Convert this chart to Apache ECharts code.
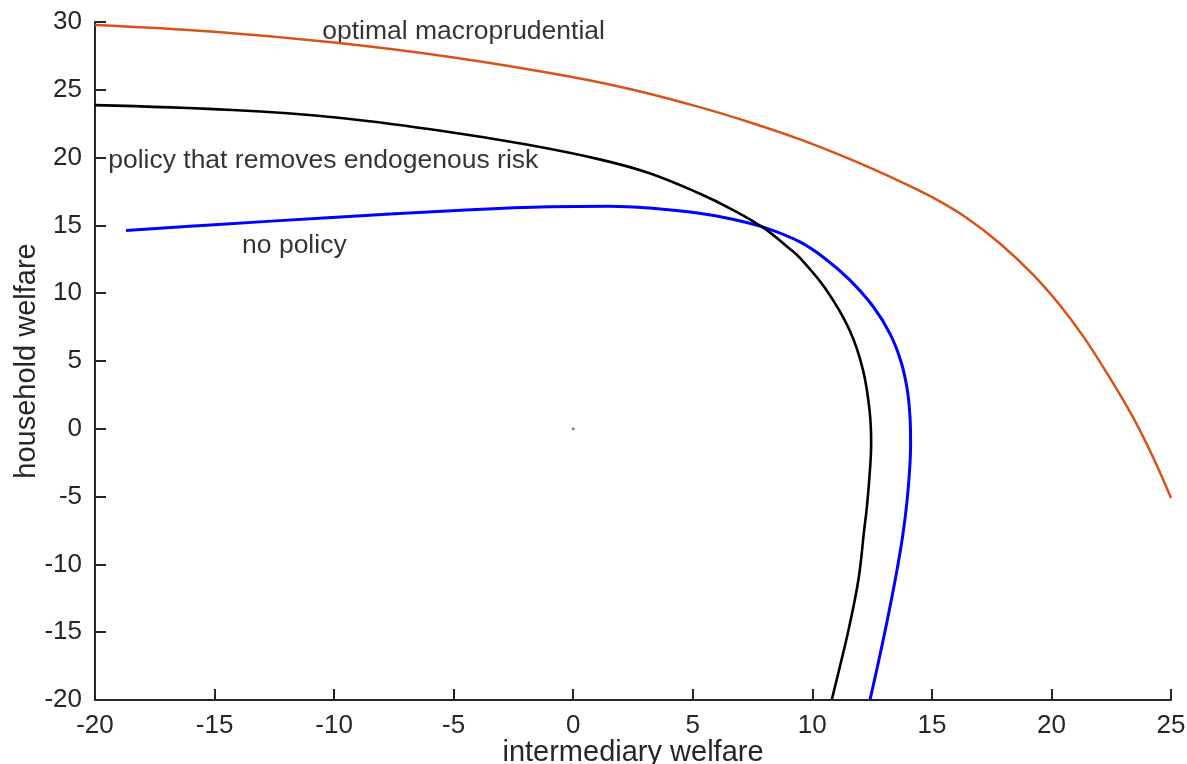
<!DOCTYPE html>
<html>
<head>
<meta charset="utf-8">
<script src="https://cdn.jsdelivr.net/npm/echarts@6/dist/echarts.min.js"></script>
<style>
  html, body { margin: 0; padding: 0; background: #fff; }
  #chart { width: 1187px; height: 764px; }
</style>
</head>
<body>
<div id="chart"></div>
<script>
// values: [intermediary welfare, household welfare]
const optimalMacro = [
  [-20, 29.78], [-15, 29.28], [-10, 28.48], [-5, 27.38], [0, 25.93], [2.5, 25.0],
  [5.28, 23.72], [7.37, 22.61], [9.46, 21.36], [11.55, 19.9], [13.64, 18.27],
  [15.03, 17.06], [16.43, 15.58], [17.82, 13.7], [19.21, 11.41], [20.33, 9.17],
  [21.3, 6.89], [22.28, 4.22], [23.39, 0.91], [24.23, -2.03], [25, -5.1]
]
const removesRisk = [
  [-20, 23.87], [-14.25, 23.51], [-9.93, 22.96], [-5.61, 22.0], [-2.01, 20.98],
  [1.1, 19.87], [3.19, 18.85], [5.28, 17.35], [6.67, 16.15], [7.93, 14.85],
  [9.04, 13.3], [9.5, 12.56], [10.58, 10.25], [11.55, 7.3], [12.11, 4.4],
  [12.39, 1.4], [12.46, -1.05], [12.39, -3.51], [12.27, -5.96], [12.17, -7.43],
  [11.93, -11.1], [11.52, -14.78], [11.16, -17.48], [10.81, -20]
]
const noPolicy = [
  [-18.7, 14.63], [-15, 15.05], [-10.26, 15.57], [-4.68, 16.12], [-1, 16.38],
  [1.5, 16.42], [3.19, 16.28], [5.28, 15.9], [6.67, 15.45], [8.07, 14.8],
  [9.46, 13.8], [10.5, 12.6], [11.55, 11.0], [12.55, 9.0], [13.25, 7.0],
  [13.7, 5.0], [13.96, 3.0], [14.08, 1.0], [14.11, -1.0], [14.07, -3.0],
  [13.95, -5.5], [13.77, -8.0], [13.48, -11.0], [13.09, -14.5], [12.74, -17.4],
  [12.41, -20]
]
const originPoint = [[0, 0]]

// text labels placed in data coordinates (left edge, middle)
const labelTexts = ['optimal macroprudential', 'policy that removes endogenous risk', 'no policy']
const labelX = [-10.5, -19.45, -13.85]
const labelY = [29.26, 19.78, 13.53]

const xTicks = { min: -20, max: 25, step: 5 }
const yTicks = { min: -20, max: 30, step: 5 }

const FONT = 'Liberation Sans, Arial, Helvetica, sans-serif'
const AXIS_COLOR = '#262626'

const chart = echarts.init(document.getElementById('chart'))

const axisCommon = {
  type: 'value',
  splitLine: { show: false },
  axisLine: { show: true, onZero: false, lineStyle: { color: AXIS_COLOR, width: 2 } },
  axisTick: { show: true, inside: true, length: 11, lineStyle: { color: AXIS_COLOR, width: 2 } },
  axisLabel: { color: AXIS_COLOR, fontSize: 26, fontFamily: FONT, margin: 13 },
  nameLocation: 'middle',
  nameMoveOverlap: false,
  nameTextStyle: { color: AXIS_COLOR, fontSize: 29, fontFamily: FONT }
}

const option = {
  animation: false,
  backgroundColor: '#fff',
  grid: { left: 95, right: 16, top: 22, bottom: 64, containLabel: false, outerBoundsMode: 'none' },
  xAxis: Object.assign({}, axisCommon, {
    min: xTicks.min, max: xTicks.max, interval: xTicks.step,
    name: 'intermediary welfare', nameGap: 38
  }),
  yAxis: Object.assign({}, axisCommon, {
    min: yTicks.min, max: yTicks.max, interval: yTicks.step,
    name: 'household welfare', nameGap: 54
  }),
  series: [
    {
      name: 'no policy', type: 'line', data: noPolicy, smooth: 0.4,
      showSymbol: false, lineStyle: { color: '#0000ff', width: 3 }
    },
    {
      name: 'policy that removes endogenous risk', type: 'line', data: removesRisk, smooth: 0.4,
      showSymbol: false, lineStyle: { color: '#000000', width: 2.6 }
    },
    {
      name: 'optimal macroprudential', type: 'line', data: optimalMacro, smooth: 0.4,
      showSymbol: false, lineStyle: { color: '#d95319', width: 2.5 }
    },
    {
      type: 'scatter', data: originPoint, symbol: 'rect', symbolSize: 2.5,
      itemStyle: { color: '#7e2f8e' }
    },
    {
      type: 'scatter', symbolSize: 0, silent: true,
      data: labelTexts.map((t, i) => ({ value: [labelX[i], labelY[i]], name: t })),
      label: {
        show: true, position: 'right', distance: 0,
        formatter: p => p.name,
        color: '#000', fontSize: 26.5, fontFamily: FONT
      }
    }
  ]
}

chart.setOption(option)
</script>
</body>
</html>
